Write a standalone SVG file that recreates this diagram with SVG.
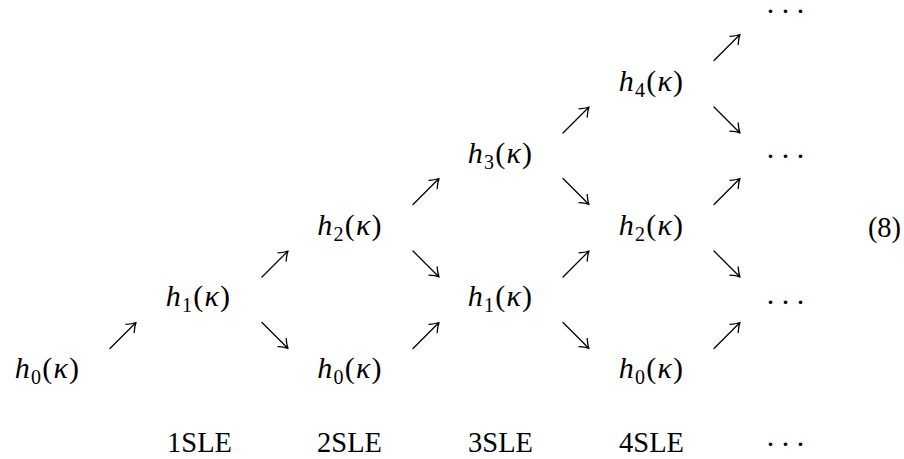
<svg xmlns="http://www.w3.org/2000/svg" xmlns:xlink="http://www.w3.org/1999/xlink" width="904" height="459" viewBox="0 0 904 459">
<style>
  text { fill: #000; text-anchor: middle; }
  .m { font-size: 30px; letter-spacing: 1.2px; }
  .i { font-style: italic; }
  .sub { font-size: 20px; }
  .lab { font-size: 28.5px; }
  .dots { font-size: 30px; letter-spacing: 5px; }
  .arr { fill: none; stroke: #000; stroke-width: 1.3; stroke-linecap: round; stroke-linejoin: round; }
</style>
<defs>
  <g id="ne"><path class="arr" d="M0,26 L26,0 M16,1.8 Q22,1.5 26,0 Q24.5,4 24.2,10"/></g>
  <g id="se"><path class="arr" d="M0,0 L26,26 M16,24.2 Q22,24.5 26,26 Q24.5,22 24.2,16"/></g>
</defs>
<rect width="904" height="459" fill="#fff"/>

<g id="connectors">
  <use xlink:href="#ne" x="110" y="322.5"/>
  <use xlink:href="#ne" x="262" y="251"/>
  <use xlink:href="#se" x="262" y="322.5"/>
  <use xlink:href="#ne" x="413" y="178.5"/>
  <use xlink:href="#se" x="413" y="251"/>
  <use xlink:href="#ne" x="413" y="322.5"/>
  <use xlink:href="#ne" x="563" y="107"/>
  <use xlink:href="#se" x="563" y="178.5"/>
  <use xlink:href="#ne" x="563" y="251"/>
  <use xlink:href="#se" x="563" y="322.5"/>
  <use xlink:href="#ne" x="714" y="34.5"/>
  <use xlink:href="#se" x="714" y="107"/>
  <use xlink:href="#ne" x="714" y="178.5"/>
  <use xlink:href="#se" x="714" y="251"/>
  <use xlink:href="#ne" x="714" y="322.5"/>
</g>

<g font-family="'Liberation Serif', 'DejaVu Serif', serif">
<g id="n-c0-h0"><text class="m" x="47.5" y="378"><tspan class="i">h</tspan><tspan class="sub" dy="6">0</tspan><tspan dy="-6">(</tspan><tspan class="i">κ</tspan>)</text></g>
<g id="n-c1-h1"><text class="m" x="198.5" y="306.25"><tspan class="i">h</tspan><tspan class="sub" dy="6">1</tspan><tspan dy="-6">(</tspan><tspan class="i">κ</tspan>)</text></g>
<g id="n-c2-h2"><text class="m" x="350" y="234.5"><tspan class="i">h</tspan><tspan class="sub" dy="6">2</tspan><tspan dy="-6">(</tspan><tspan class="i">κ</tspan>)</text></g>
<g id="n-c2-h0"><text class="m" x="350" y="378"><tspan class="i">h</tspan><tspan class="sub" dy="6">0</tspan><tspan dy="-6">(</tspan><tspan class="i">κ</tspan>)</text></g>
<g id="n-c3-h3"><text class="m" x="500.5" y="162.75"><tspan class="i">h</tspan><tspan class="sub" dy="6">3</tspan><tspan dy="-6">(</tspan><tspan class="i">κ</tspan>)</text></g>
<g id="n-c3-h1"><text class="m" x="500.5" y="306.25"><tspan class="i">h</tspan><tspan class="sub" dy="6">1</tspan><tspan dy="-6">(</tspan><tspan class="i">κ</tspan>)</text></g>
<g id="n-c4-h4"><text class="m" x="651.5" y="91"><tspan class="i">h</tspan><tspan class="sub" dy="6">4</tspan><tspan dy="-6">(</tspan><tspan class="i">κ</tspan>)</text></g>
<g id="n-c4-h2"><text class="m" x="651.5" y="234.5"><tspan class="i">h</tspan><tspan class="sub" dy="6">2</tspan><tspan dy="-6">(</tspan><tspan class="i">κ</tspan>)</text></g>
<g id="n-c4-h0"><text class="m" x="651.5" y="378"><tspan class="i">h</tspan><tspan class="sub" dy="6">0</tspan><tspan dy="-6">(</tspan><tspan class="i">κ</tspan>)</text></g>

<g id="n-c5-top"><text class="dots" x="788" y="21">···</text></g>
<g id="n-c5-mid"><text class="dots" x="788" y="166">···</text></g>
<g id="n-c5-low"><text class="dots" x="788" y="312">···</text></g>

<g id="eqno"><text class="lab" x="884.5" y="237">(8)</text></g>

<g id="labels">
  <text class="lab" x="199.5" y="452">1SLE</text>
  <text class="lab" x="349.5" y="452">2SLE</text>
  <text class="lab" x="500.5" y="452">3SLE</text>
  <text class="lab" x="651.5" y="452">4SLE</text>
  <text class="dots" x="788" y="454">···</text>
</g>
</g>
</svg>
